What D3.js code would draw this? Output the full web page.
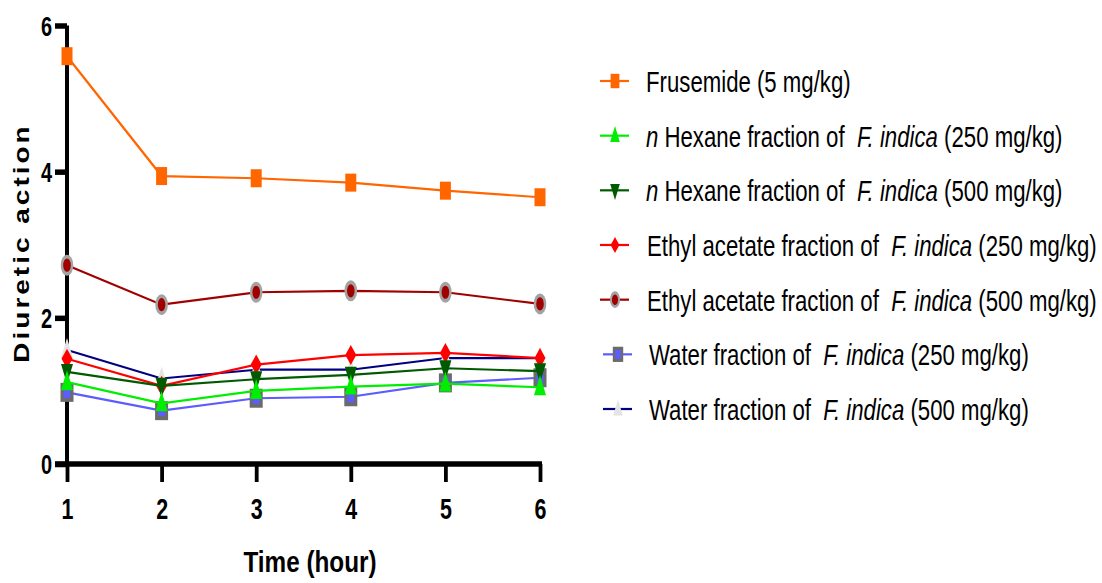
<!DOCTYPE html>
<html>
<head>
<meta charset="utf-8">
<script src="https://cdn.jsdelivr.net/npm/d3@7"></script>
<style>
  html, body { margin: 0; padding: 0; background: #fff; }
  svg { display: block; }
  text { font-family: "Liberation Sans", Arial, sans-serif; fill: #000; }
</style>
</head>
<body>
<svg id="svg" width="1102" height="583"></svg>
<script>
// values
var hours = [1, 2, 3, 4, 5, 6];
var frusemide = [5.58, 3.94, 3.91, 3.85, 3.74, 3.65];
var hexane250 = [1.12, 0.83, 1.00, 1.06, 1.10, 1.05];
var hexane500 = [1.26, 1.07, 1.16, 1.22, 1.31, 1.27];
var ethyl250 = [1.44, 1.07, 1.36, 1.49, 1.52, 1.45];
var ethyl500 = [2.72, 2.18, 2.35, 2.37, 2.35, 2.19];
var water250 = [0.98, 0.73, 0.90, 0.92, 1.11, 1.18];
var water500 = [1.56, 1.17, 1.29, 1.29, 1.45, 1.45];
var yTicks = [0, 2, 4, 6];

var seriesValues = [frusemide, hexane250, hexane500, ethyl250, ethyl500, water250, water500];
// legend labels: [text, italic]
var seriesLabels = [
  [["Frusemide (5 mg/kg)", false]],
  [["n", true], [" Hexane fraction of  ", false], ["F. indica", true], [" (250 mg/kg)", false]],
  [["n", true], [" Hexane fraction of  ", false], ["F. indica", true], [" (500 mg/kg)", false]],
  [["Ethyl acetate fraction of  ", false], ["F. indica", true], [" (250 mg/kg)", false]],
  [["Ethyl acetate fraction of  ", false], ["F. indica", true], [" (500 mg/kg)", false]],
  [["Water fraction of  ", false], ["F. indica", true], [" (250 mg/kg)", false]],
  [["Water fraction of  ", false], ["F. indica", true], [" (500 mg/kg)", false]]
];

// look of each series (kept apart from the values)
var seriesStyle = [
  {line: "#ff6600", shape: "square", fill: "#ff6600"},
  {line: "#00ee00", shape: "triUp", fill: "#00ee00"},
  {line: "#005a00", shape: "triDown", fill: "#005a00"},
  {line: "#ff0000", shape: "diamond", fill: "#ff0000"},
  {line: "#a00000", shape: "ring", fill: "#a00000", edge: "#a3a3a3"},
  {line: "#5c5cff", shape: "box", fill: "#5c5cff", edge: "#6b6b6b"},
  {line: "#000080", shape: "triUp", fill: "#e4e4e4"}
];

var SX = 0.74; // the figure is squeezed sideways
var svg = d3.select("#svg");

var x = d3.scaleLinear().domain([1, 6]).range([67, 540]);
var y = d3.scaleLinear().domain([0, 6]).range([464, 25.5]);

function drawMarker(g, st, cx, cy, k) {
  var w = 11 * k, h = 18 * k;
  var m = g.append("g").attr("transform", "translate(" + cx + "," + cy + ")");
  switch (st.shape) {
    case "square":
      m.append("rect").attr("x", -w/2).attr("y", -h/2).attr("width", w).attr("height", h)
        .attr("fill", st.fill);
      break;
    case "box":
      m.append("rect").attr("x", -6.5*k).attr("y", -9.5*k).attr("width", 13*k).attr("height", 19*k)
        .attr("fill", st.edge);
      m.append("rect").attr("x", -3.5*k).attr("y", -5.5*k).attr("width", 7*k).attr("height", 11*k)
        .attr("fill", st.fill);
      break;
    case "triUp":
      m.append("path").attr("d", "M0," + (-12*k) + "L" + (6*k) + "," + (8*k) + "L" + (-6*k) + "," + (8*k) + "Z")
        .attr("fill", st.fill);
      break;
    case "triDown":
      m.append("path").attr("d", "M0," + (12*k) + "L" + (6*k) + "," + (-8*k) + "L" + (-6*k) + "," + (-8*k) + "Z")
        .attr("fill", st.fill);
      break;
    case "diamond":
      m.append("path").attr("d", "M0," + (-10*k) + "L" + (5.5*k) + ",0L0," + (10*k) + "L" + (-5.5*k) + ",0Z")
        .attr("fill", st.fill);
      break;
    case "ring":
      m.append("ellipse").attr("rx", 6.3*k).attr("ry", 10.5*k).attr("fill", st.edge);
      m.append("ellipse").attr("rx", 3.8*k).attr("ry", 6.6*k).attr("fill", st.fill);
      break;
  }
}

// axes
var yAxis = d3.axisLeft(y).tickValues(yTicks).tickFormat(d3.format("d"))
  .tickSize(11).tickSizeOuter(0);
var xAxis = d3.axisBottom(x).tickValues(hours).tickFormat(d3.format("d"))
  .tickSize(18).tickSizeOuter(0);

var gy = svg.append("g").attr("transform", "translate(67,0)").call(yAxis);
gy.select(".domain").attr("stroke", "#000").attr("stroke-width", 4).attr("d", "M0,25.5V466");
gy.selectAll(".tick line").attr("stroke", "#000").attr("stroke-width", 5.5).attr("x2", -12);
gy.selectAll(".tick text")
  .attr("font-size", 27).attr("font-weight", "bold")
  .attr("font-family", "'Liberation Sans', Arial, sans-serif")
  .attr("x", -15 / SX).attr("dy", "0.36em")
  .attr("transform", "scale(" + SX + ",1)");

var gx = svg.append("g").attr("transform", "translate(0,464)").call(xAxis);
gx.select(".domain").attr("stroke", "#000").attr("stroke-width", 5.5).attr("d", "M55,0H542");
gx.selectAll(".tick line").attr("stroke", "#000").attr("stroke-width", 3.8);
gx.selectAll(".tick text")
  .attr("font-size", 29).attr("font-weight", "bold")
  .attr("font-family", "'Liberation Sans', Arial, sans-serif")
  .attr("y", 55).attr("dy", 0).attr("x", 0)
  .attr("transform", "scale(" + SX + ",1)");

// axis titles
svg.append("text")
  .attr("transform", "translate(310,572) scale(0.81,1)")
  .attr("text-anchor", "middle")
  .attr("font-size", 30).attr("font-weight", "bold")
  .text("Time (hour)");

svg.append("text")
  .attr("transform", "translate(29,243) scale(0.78,1) rotate(-90)")
  .attr("text-anchor", "middle")
  .attr("font-size", 28).attr("font-weight", "bold")
  .attr("letter-spacing", 3)
  .text("Diuretic action");

// series, last one underneath
var line = d3.line()
  .x(function(d, i) { return x(hours[i]); })
  .y(function(d) { return y(d); });

var plot = svg.append("g");
for (var s = seriesValues.length - 1; s >= 0; s--) {
  var st = seriesStyle[s];
  plot.append("path").datum(seriesValues[s])
    .attr("fill", "none")
    .attr("stroke", st.line)
    .attr("stroke-width", 2.2)
    .attr("d", line);
  seriesValues[s].forEach(function(v, i) {
    drawMarker(plot, st, x(hours[i]), y(v), 1);
  });
}

// legend
var ly = d3.scaleLinear().domain([0, 6]).range([81, 409]);
var legend = svg.append("g");
seriesLabels.forEach(function(parts, i) {
  var st = seriesStyle[i];
  var cy = ly(i);
  var off = i >= 5 ? 3 : 0;
  legend.append("line")
    .attr("x1", 600 + off).attr("x2", 629 + off)
    .attr("y1", cy).attr("y2", cy)
    .attr("stroke", st.line).attr("stroke-width", 2.2);
  drawMarker(legend, st, 615 + off, cy, 0.8);
  var t = legend.append("text")
    .attr("transform", "translate(" + (646 + (i >= 3 ? 1 : 0) + (i >= 5 ? 2 : 0)) + "," + (cy + 11) + ") scale(" + SX + ",1)")
    .attr("font-size", 30);
  parts.forEach(function(p) {
    t.append("tspan")
      .attr("font-style", p[1] ? "italic" : "normal")
      .style("white-space", "pre")
      .text(p[0]);
  });
});
</script>
</body>
</html>
